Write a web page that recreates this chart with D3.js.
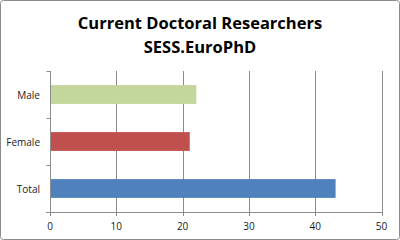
<!DOCTYPE html>
<html><head><meta charset="utf-8">
<script src="https://cdn.jsdelivr.net/npm/d3@7"></script>
<style>body{margin:0;background:#fff;}svg{display:block;}</style>
</head><body>
<script>
const categories = ["Male", "Female", "Total"];
const values = [22, 21, 43];
const colors = ["#C3D69B", "#C0504D", "#4F81BD"];
const xTicks = [0, 10, 20, 30, 40, 50];
const titleLines = ["Current Doctoral Researchers", "SESS.EuroPhD"];

const W = 400, H = 240;
const svg = d3.select("body").append("svg").attr("width", W).attr("height", H);
svg.append("rect").attr("x", 0.5).attr("y", 0.5).attr("width", W - 1).attr("height", H - 1)
  .attr("rx", 3).attr("fill", "#fff").attr("stroke", "#8c8c8c");

const x = d3.scaleLinear().domain([0, 50]).range([50, 381.5]);
const y = d3.scaleBand().domain(categories).range([71, 212]).paddingInner(0.6).paddingOuter(0.3);

// gridlines
svg.append("g").selectAll("line").data(xTicks).join("line")
  .attr("x1", d => Math.round(x(d)) + 0.5).attr("x2", d => Math.round(x(d)) + 0.5)
  .attr("y1", 71).attr("y2", 216)
  .attr("stroke", "#8c8c8c").attr("stroke-width", 1);

// bars
svg.append("g").selectAll("rect").data(categories).join("rect")
  .attr("x", x(0) + 0.5).attr("y", d => y(d))
  .attr("width", (d, i) => x(values[i]) - x(0)).attr("height", y.bandwidth())
  .attr("fill", (d, i) => colors[i]);

// y axis
const yAxis = svg.append("g").attr("transform", "translate(50.5,0)");
yAxis.append("line").attr("y1", 71).attr("y2", 212).attr("stroke", "#8c8c8c");
const bounds = [71, 71 + 47, 71 + 94, 212];
yAxis.selectAll("line.t").data(bounds).join("line").attr("class", "t")
  .attr("x1", -4).attr("x2", 0).attr("y1", d => Math.round(d) + 0.5).attr("y2", d => Math.round(d) + 0.5)
  .attr("stroke", "#8c8c8c");
// x axis line
svg.append("line").attr("x1", 46).attr("x2", x(50) + 0.5).attr("y1", 212.5).attr("y2", 212.5).attr("stroke", "#8c8c8c");

const font = "'Open Sans', 'Liberation Sans', sans-serif";
svg.append("g").selectAll("text").data(categories).join("text")
  .attr("x", 40).attr("y", d => y(d) + y.bandwidth() / 2 + 4)
  .attr("text-anchor", "end").attr("font-family", font).attr("font-size", 10).attr("fill", "#1a1a1a")
  .text(d => d);
svg.append("g").selectAll("text").data(xTicks).join("text")
  .attr("x", d => x(d)).attr("y", 230)
  .attr("text-anchor", "middle").attr("font-family", font).attr("font-size", 10).attr("fill", "#1a1a1a")
  .text(d => d);

svg.append("g").selectAll("text").data(titleLines).join("text")
  .attr("x", 200).attr("y", (d, i) => 28.5 + i * 24)
  .attr("text-anchor", "middle").attr("font-family", font).attr("font-weight", "bold")
  .attr("font-size", 16.5).attr("fill", "#000")
  .text(d => d);
</script>
</body></html>
